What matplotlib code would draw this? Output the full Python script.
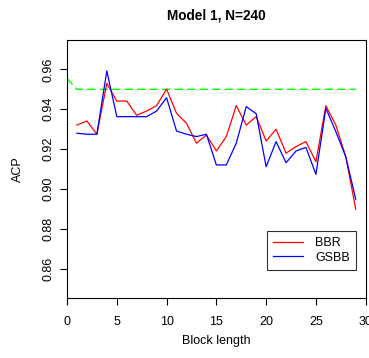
import matplotlib
matplotlib.use("Agg")
import matplotlib.pyplot as plt

block = list(range(1, 30))
bbr = [0.9321, 0.9341, 0.9275, 0.9530, 0.9441, 0.9441, 0.9370, 0.9391, 0.9418, 0.9501,
       0.9380, 0.9330, 0.9230, 0.9271, 0.9191, 0.9263, 0.9418, 0.9321, 0.9363, 0.9241,
       0.9300, 0.9180, 0.9213, 0.9238, 0.9137, 0.9418, 0.9321, 0.9162, 0.8899]
gsbb = [0.9280, 0.9275, 0.9275, 0.9592, 0.9363, 0.9363, 0.9363, 0.9363, 0.9391, 0.9458,
        0.9291, 0.9275, 0.9263, 0.9275, 0.9121, 0.9121, 0.9230, 0.9413, 0.9378, 0.9112,
        0.9238, 0.9132, 0.9191, 0.9209, 0.9074, 0.9405, 0.9288, 0.9162, 0.8949]
nom_x = list(range(0, 30))
nominal = [0.9555] + [0.95] * 29

xticks = [0, 5, 10, 15, 20, 25, 30]
yticks = [0.86, 0.88, 0.90, 0.92, 0.94, 0.96]

plt.rcParams['font.family'] = ['Liberation Sans', 'DejaVu Sans']

fig = plt.figure(figsize=(3.69, 3.58), dpi=100)
ax = fig.add_axes([67/369, 1-297.7/358, (365.7-67)/369, (297.7-40)/358])

ax.plot(nom_x, nominal, color='#00ff00', lw=1.0, linestyle=(0, (6, 3)))
ax.plot(block, bbr, color='red', lw=0.9, label='BBR')
ax.plot(block, gsbb, color='blue', lw=0.9, label='GSBB')

ax.set_xlim(0, 30)
ax.set_ylim(0.8456, 0.9747)
ax.set_xticks(xticks)
ax.set_yticks(yticks)
ax.set_yticklabels(['%.2f' % v for v in yticks], rotation=90, va='center')
ax.tick_params(labelsize=9, length=5.2, width=0.8, direction='out')
ax.tick_params(axis='x', pad=8)
ax.tick_params(axis='y', pad=4)
for s in ax.spines.values():
    s.set_linewidth(0.8)

ax.set_xlabel('Block length', fontsize=9, labelpad=5)
ax.set_ylabel('ACP', fontsize=9, labelpad=13)
ax.set_title('Model 1, N=240', fontsize=9.8, fontweight='bold', pad=15)

leg = ax.legend(loc='lower left', bbox_to_anchor=((266.7-67)/298.7, (297.7-270)/257.7),
                fontsize=9, frameon=True, fancybox=False, edgecolor='black',
                handlelength=2.4, borderpad=0.5, labelspacing=0.2, handletextpad=1.0,
                borderaxespad=0)
leg.get_frame().set_linewidth(0.8)

fig.savefig('out.png', dpi=100)
